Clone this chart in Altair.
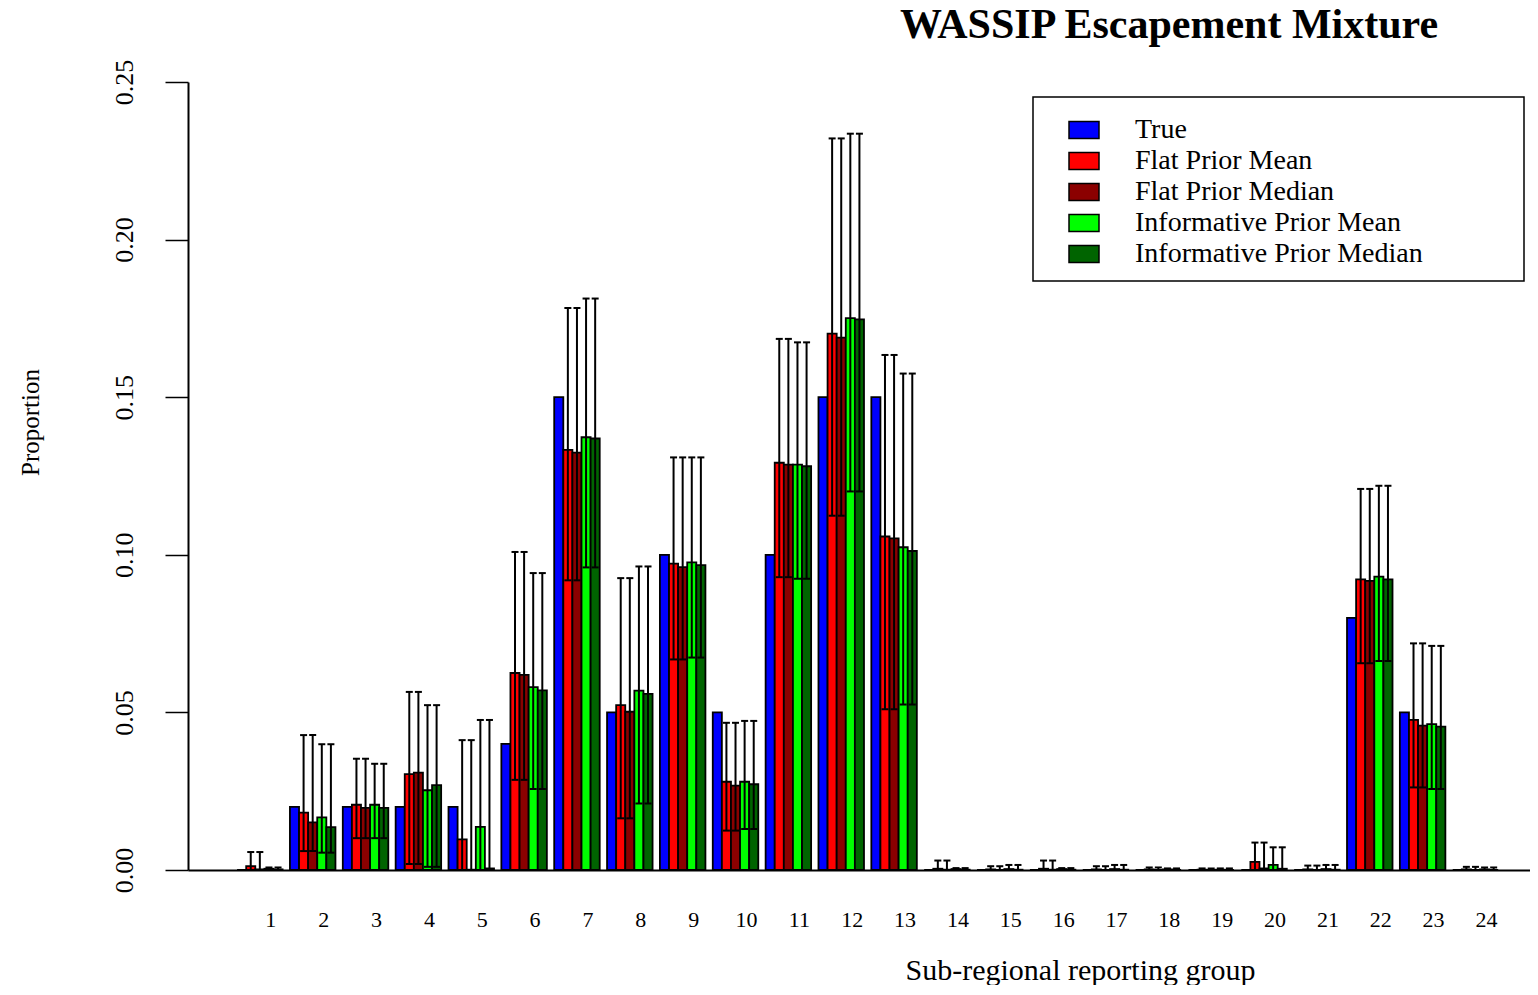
import altair as alt
import pandas as pd

groups = list(range(1, 25))
series = ["True", "Flat Prior Mean", "Flat Prior Median",
          "Informative Prior Mean", "Informative Prior Median"]
colors = ["#0000FF", "#FF0000", "#8B0000", "#00FF00", "#006400"]
title_text = "WASSIP Escapement Mixture"

true_vals = [0.0, 0.02, 0.02, 0.02, 0.02, 0.04, 0.15, 0.05, 0.10, 0.05, 0.10, 0.15,
             0.15, 0.0, 0.0, 0.0, 0.0, 0.0, 0.0, 0.0, 0.0, 0.08, 0.05, 0.0]
flat_mean = [0.0012, 0.0182, 0.0207, 0.0304, 0.0097, 0.0625, 0.1333, 0.0523, 0.0972, 0.0280,
             0.1292, 0.1702, 0.1058, 0.0004, 0.0002, 0.0004, 0.0002, 0.0002, 0.0001, 0.0026,
             0.0002, 0.0922, 0.0476, 0.0002]
flat_median = [0.0002, 0.0151, 0.0197, 0.0309, 0.0001, 0.0619, 0.1324, 0.0502, 0.0961, 0.0268,
               0.1286, 0.1689, 0.1052, 0.0001, 0.0, 0.0001, 0.0, 0.0, 0.0, 0.0005,
               0.0, 0.0917, 0.0458, 0.0]
inf_mean = [0.0004, 0.0167, 0.0207, 0.0253, 0.0137, 0.0580, 0.1373, 0.0569, 0.0976, 0.0280,
            0.1286, 0.1751, 0.1024, 0.0003, 0.0003, 0.0003, 0.0003, 0.0002, 0.0001, 0.0016,
            0.0003, 0.0931, 0.0463, 0.0002]
inf_median = [0.0002, 0.0136, 0.0197, 0.0269, 0.0005, 0.0570, 0.1369, 0.0559, 0.0967, 0.0272,
              0.1281, 0.1747, 0.1012, 0.0001, 0.0001, 0.0001, 0.0001, 0.0, 0.0, 0.0004,
              0.0001, 0.0922, 0.0455, 0.0]

flat_lo = [0.0, 0.0060, 0.0101, 0.0019, 0.0, 0.0286, 0.0919, 0.0164, 0.0668, 0.0125,
           0.0929, 0.1124, 0.0510, 0.0, 0.0, 0.0, 0.0, 0.0, 0.0, 0.0,
           0.0, 0.0656, 0.0262, 0.0]
flat_hi = [0.0057, 0.0428, 0.0353, 0.0565, 0.0412, 0.1009, 0.1783, 0.0926, 0.1309, 0.0467,
           0.1685, 0.2321, 0.1634, 0.0030, 0.0012, 0.0030, 0.0012, 0.0008, 0.0005, 0.0087,
           0.0014, 0.1209, 0.0719, 0.0010]
inf_lo = [0.0, 0.0055, 0.0101, 0.0010, 0.0, 0.0257, 0.0960, 0.0211, 0.0674, 0.0130,
          0.0924, 0.1201, 0.0525, 0.0, 0.0, 0.0, 0.0, 0.0, 0.0, 0.0,
          0.0, 0.0663, 0.0257, 0.0]
inf_hi = [0.0008, 0.0399, 0.0337, 0.0523, 0.0476, 0.0942, 0.1813, 0.0963, 0.1309, 0.0473,
          0.1674, 0.2336, 0.1575, 0.0006, 0.0016, 0.0006, 0.0016, 0.0005, 0.0005, 0.0072,
          0.0016, 0.1219, 0.0711, 0.0008]

y_ticks = [0.0, 0.05, 0.10, 0.15, 0.20, 0.25]

value_lists = [true_vals, flat_mean, flat_median, inf_mean, inf_median]
rows = []
for i, g in enumerate(groups):
    for s, vals in zip(series, value_lists):
        if s.startswith("Flat"):
            lo, hi = flat_lo[i], flat_hi[i]
        elif s.startswith("Informative"):
            lo, hi = inf_lo[i], inf_hi[i]
        else:
            lo, hi = None, None
        rows.append({"group": g, "series": s, "value": vals[i], "lo": lo, "hi": hi})
df = pd.DataFrame(rows)
df_err = df[df["series"] != "True"]

FONT = "Liberation Serif"

x_enc = alt.X(
    "group:O",
    scale=alt.Scale(paddingInner=0.139, paddingOuter=0.765, align=0.607),
    axis=alt.Axis(
        title="Sub-regional reporting group",
        labelAngle=0, ticks=False, tickSize=0, labelPadding=39, labelOffset=11,
        labelFont=FONT, labelFontSize=22, labelColor="black",
        titleFont=FONT, titleFontSize=30, titleFontWeight="normal", titleColor="black",
        titleX=892, titleY=109, titleAlign="center", titleBaseline="alphabetic",
        domainColor="black", domainWidth=2, grid=False,
    ),
)
xo_enc = alt.XOffset("series:N", sort=series, scale=alt.Scale(paddingInner=0, paddingOuter=0))
y_scale = alt.Scale(domain=[0, 0.25], nice=False)

# legend frame (drawn under the legend)
legend_box = alt.Chart(pd.DataFrame({"k": [0]})).mark_rect(
    fill="white", stroke="black", strokeWidth=1.5
).encode(
    x=alt.value(845), x2=alt.value(1336), y=alt.value(15), y2=alt.value(199)
)

bars = alt.Chart(df).mark_bar(stroke="black", strokeWidth=1.8, opacity=1).encode(
    x=x_enc,
    xOffset=xo_enc,
    y=alt.Y(
        "value:Q", scale=y_scale,
        axis=alt.Axis(
            values=y_ticks, format=".2f", labelAngle=270, labelAlign="center",
            labelBaseline="bottom", labelPadding=28, tickSize=23, tickWidth=1.5,
            tickColor="black", domainColor="black", domainWidth=2,
            labelFont=FONT, labelFontSize=26, labelColor="black", grid=False,
            labelOverlap=False,
            title="Proportion", titleFont=FONT, titleFontSize=25, titleFontWeight="normal",
            titleColor="black", titleAngle=270, titleX=-158, titleY=340,
            titleAlign="center", titleBaseline="middle",
        ),
    ),
    color=alt.Color(
        "series:N", sort=series,
        scale=alt.Scale(domain=series, range=colors),
        legend=alt.Legend(title=None, orient="none", legendX=845, legendY=17),
    ),
)

rules = alt.Chart(df_err).mark_rule(color="black", strokeWidth=2).encode(
    x=x_enc, xOffset=xo_enc,
    y=alt.Y("lo:Q", scale=y_scale), y2="hi:Q",
)
caps_hi = alt.Chart(df_err).mark_tick(color="black", thickness=2, size=7, opacity=1).encode(
    x=x_enc, xOffset=xo_enc, y=alt.Y("hi:Q", scale=y_scale),
)
caps_lo = alt.Chart(df_err).mark_tick(color="black", thickness=2, size=7, opacity=1).encode(
    x=x_enc, xOffset=xo_enc, y=alt.Y("lo:Q", scale=y_scale),
)

title_mark = alt.Chart(pd.DataFrame({"t": [title_text]})).mark_text(
    font=FONT, fontSize=42, fontWeight="bold", color="black",
    align="center", baseline="alphabetic",
).encode(text="t:N", x=alt.value(981), y=alt.value(-44))

chart = alt.layer(legend_box, bars, rules, caps_hi, caps_lo, title_mark).properties(
    width=1342, height=788,
    autosize=alt.AutoSizeParams(type="none"),
    padding={"left": 180, "top": 74, "right": 0, "bottom": 115},
).configure_view(stroke=None).configure_legend(
    strokeColor=None, fillColor=None, padding=15,
    rowPadding=1, symbolOffset=20, labelOffset=35,
    symbolType="M-1,-0.567L1,-0.567L1,0.567L-1,0.567Z", symbolSize=900,
    symbolStrokeColor="black", symbolStrokeWidth=1.5, symbolOpacity=1,
    labelFont=FONT, labelFontSize=28, labelColor="black", labelLimit=700,
)

chart.save("out.html", embed_options={"renderer": "svg", "actions": False})
